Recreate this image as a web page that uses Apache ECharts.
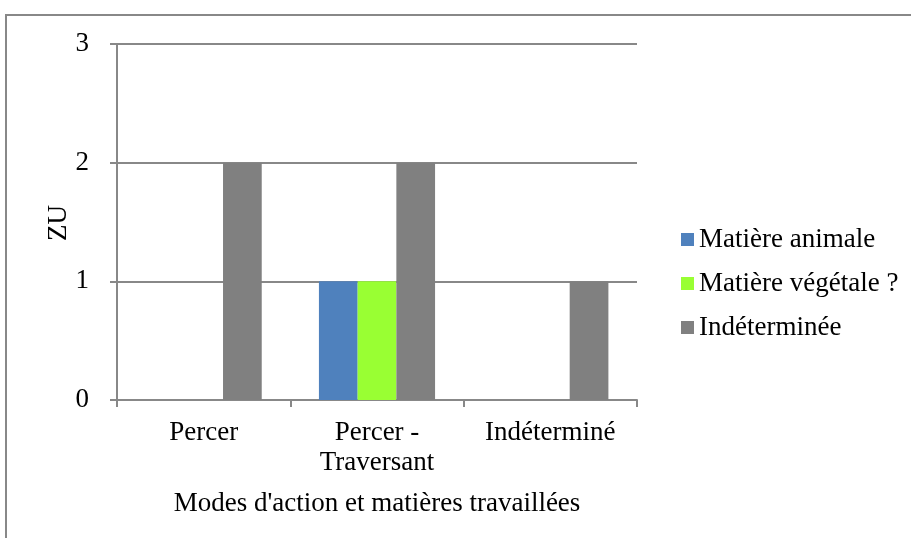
<!DOCTYPE html>
<html>
<head>
<meta charset="utf-8">
<script src="https://cdn.jsdelivr.net/npm/echarts@6/dist/echarts.min.js"></script>
<style>
  html, body { margin: 0; padding: 0; background: #fff; }
  #chart { width: 911px; height: 538px; }
</style>
</head>
<body>
<div id="chart"></div>
<script>
// Modes d'action (catégories) et nombre de ZU par matière travaillée
const categories = ['Percer', 'Percer -\nTraversant', 'Indéterminé'];
const seriesNames = ['Matière animale', 'Matière végétale ?', 'Indéterminée'];
const animale = [0, 1, 0];
const vegetale = [0, 1, 0];
const indeterminee = [2, 2, 1];
const yTicks = [0, 1, 2, 3];
const yTitle = 'ZU';

const colors = ['#4F81BD', '#99FF33', '#808080'];
const font = 'Liberation Serif, Times New Roman, serif';
const fs = 27;
const lineCol = '#888888';

const chart = echarts.init(document.getElementById('chart'), null, { renderer: 'canvas' });

const values = [animale, vegetale, indeterminee];

chart.setOption({
  animation: false,
  backgroundColor: '#ffffff',
  textStyle: { fontFamily: font, color: '#000' },
  graphic: [{
    // cadre extérieur du graphique
    type: 'rect',
    shape: { x: 6, y: 15, width: 1200, height: 1200 },
    style: { fill: 'none', stroke: '#888888', lineWidth: 2 },
    silent: true
  }, {
    // titre de l'axe vertical
    type: 'text',
    x: 59,
    y: 223,
    rotation: Math.PI / 2,
    style: {
      text: yTitle,
      fontFamily: font,
      fontSize: fs,
      fill: '#000',
      align: 'center',
      verticalAlign: 'middle'
    },
    silent: true
  }],
  grid: { left: 117, right: 274, top: 44, bottom: 138, containLabel: false },
  legend: {
    orient: 'vertical',
    left: 681,
    top: 226,
    padding: 0,
    itemWidth: 13,
    itemHeight: 13,
    itemGap: 17,
    icon: 'rect',
    textStyle: { fontFamily: font, fontSize: fs, color: '#000' },
    data: seriesNames
  },
  xAxis: {
    type: 'category',
    data: categories,
    name: "Modes d'action et matières travaillées",
    nameLocation: 'middle',
    nameGap: 90,
    nameTextStyle: { fontFamily: font, fontSize: fs, color: '#000' },
    axisLine: { lineStyle: { color: lineCol, width: 2 } },
    axisTick: { show: true, length: 7, alignWithLabel: false, lineStyle: { color: lineCol, width: 2 } },
    axisLabel: { fontFamily: font, fontSize: fs, color: '#000', margin: 18, lineHeight: 30, interval: 0 }
  },
  yAxis: {
    type: 'value',
    min: yTicks[0],
    max: yTicks[yTicks.length - 1],
    interval: 1,
    axisLine: { show: true, lineStyle: { color: lineCol, width: 2 } },
    axisTick: { show: true, length: 7, lineStyle: { color: lineCol, width: 2 } },
    axisLabel: { fontFamily: font, fontSize: fs, color: '#000', margin: 28 },
    splitLine: { show: true, lineStyle: { color: lineCol, width: 2 } }
  },
  series: seriesNames.map((name, i) => ({
    name: name,
    type: 'bar',
    data: values[i],
    barGap: '0%',
    barCategoryGap: '33%',
    itemStyle: { color: colors[i] }
  }))
});
</script>
</body>
</html>
